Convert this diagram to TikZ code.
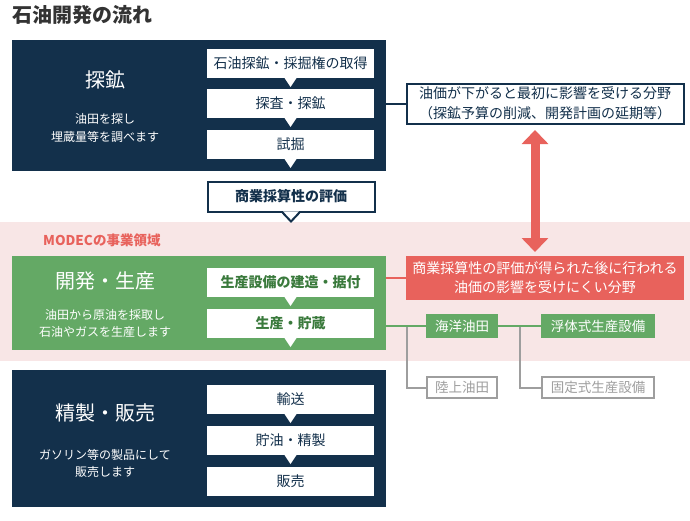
\documentclass[tikz,border=0pt]{standalone}
\usepackage{fontspec}
\setmainfont{Noto Sans CJK JP}
\usetikzlibrary{arrows.meta,calc}
\definecolor{navyc}{HTML}{13304B}
\definecolor{mgreen}{HTML}{64A965}
\definecolor{dgreen}{HTML}{3A7A3C}
\definecolor{mred}{HTML}{E8625C}
\definecolor{mpink}{HTML}{F8E6E6}
\definecolor{mgray}{HTML}{9E9E9E}
\definecolor{tgray}{HTML}{333333}
\tikzset{
  bigbox/.style={inner sep=0pt, outer sep=0pt, minimum width=374pt},
  stepbox/.style={fill=white, inner sep=0pt, outer sep=0pt, minimum width=167pt, minimum height=29pt, font=\fontsize{14}{16}\selectfont, text=navyc},
  gstepbox/.style={stepbox, text=dgreen, font=\fontsize{14}{16}\selectfont\bfseries},
  ptr/.style={fill=white},
  headtext/.style={text=white, font=\fontsize{20}{24}\selectfont},
  subtext/.style={text=white, align=center},
  fieldbox/.style={inner sep=0pt, outer sep=0pt, minimum width=72pt, minimum height=24pt, font=\fontsize{13.5}{16}\selectfont},
  greenbox/.style={fieldbox, fill=mgreen, text=white},
  graybox/.style={fieldbox, fill=white, draw=mgray, line width=2pt, text=mgray},
}
\begin{document}
\begin{tikzpicture}[x=1pt,y=-1pt]
\useasboundingbox (0,0) rectangle (690,520);
% title
\node[anchor=west, inner sep=0pt, text=tgray, font=\fontsize{20}{23}\selectfont\bfseries] (title) at (12,15) {石油開発の流れ};

% pink band
\fill[mpink] (0,222) rectangle (690,361);
\node[anchor=west, inner sep=0pt, text=mred, font=\fontsize{13.5}{15}\selectfont\bfseries] (modec) at (43,240) {MODECの事業領域};

% ---------- 探鉱 ----------
\node[bigbox, fill=navyc, minimum height=131pt] (d1) at (199,105.5) {};
\node[headtext] (d1h) at (105,80) {探鉱};
\node[subtext, font=\fontsize{12}{18}\selectfont] (d1s) at (105,127.5) {油田を探し\\埋蔵量等を調べます};
\node[stepbox] (s11) at (290.5,63.5) {石油探鉱・採掘権の取得};
\node[stepbox] (s12) at (290.5,103.5) {探査・探鉱};
\node[stepbox] (s13) at (290.5,144.5) {試掘};
\foreach \n in {s11,s12,s13}
  \fill[ptr] ([xshift=-6pt]\n.south) -- ([xshift=6pt]\n.south) -- ([yshift=-9pt]\n.south) -- cycle;

% callout
\node[draw=navyc, line width=2pt, fill=white, inner sep=0pt, minimum width=277pt, minimum height=40pt, align=center, text=navyc, font=\fontsize{14}{20}\selectfont] (call) at (545,103.5) {油価が下がると最初に影響を受ける分野\\（探鉱予算の削減、開発計画の延期等）};
\draw[navyc, line width=2pt] (call.west -| d1.east) -- (call.west);

% evaluation
\node[draw=navyc, line width=2pt, fill=white, inner sep=0pt, minimum width=167pt, minimum height=30pt, text=navyc, font=\fontsize{14}{16}\selectfont\bfseries] (ev) at (291,196.5) {商業採算性の評価};
\fill[white] ([xshift=-8pt,yshift=1.2pt]ev.south) -- ([xshift=8pt,yshift=1.2pt]ev.south) -- ([yshift=-8pt]ev.south) -- cycle;
\draw[navyc, line width=2pt, line join=miter] ([xshift=-8.5pt]ev.south) -- ([yshift=-9pt]ev.south) -- ([xshift=8.5pt]ev.south);

% ---------- 開発・生産 ----------
\node[bigbox, fill=mgreen, minimum height=94pt] (d2) at (199,303) {};
\node[headtext] (d2h) at (105,281) {開発・生産};
\node[subtext, font=\fontsize{12}{17}\selectfont] (d2s) at (105,323) {油田から原油を採取し\\石油やガスを生産します};
\node[gstepbox] (s21) at (290.5,282.5) {生産設備の建造・据付};
\node[gstepbox] (s22) at (290.5,323.5) {生産・貯蔵};
\foreach \n in {s21,s22}
  \fill[ptr] ([xshift=-6pt]\n.south) -- ([xshift=6pt]\n.south) -- ([yshift=-9pt]\n.south) -- cycle;

% red box
\node[fill=mred, inner sep=0pt, minimum width=278pt, minimum height=44pt, align=center, text=white, font=\fontsize{14}{19}\selectfont] (rb) at (545,278) {商業採算性の評価が得られた後に行われる\\油価の影響を受けにくい分野};
\draw[mred, line width=2pt] (rb.west -| d2.east) -- (rb.west);

% double arrow
\coordinate (a1) at (535,130);
\coordinate (a2) at (535,252);
\draw[mred, line width=9pt, {Triangle[width=26pt,length=14pt]}-{Triangle[width=26pt,length=14pt]}] (a1) -- (a2);

% fields
\node[greenbox] (kaiyo) at (462,326) {海洋油田};
\node[greenbox, minimum width=114pt] (futai) at (598,326) {浮体式生産設備};
\node[graybox, minimum width=70pt, minimum height=21pt] (riku) at (462,387.5) {陸上油田};
\node[graybox, minimum width=112pt, minimum height=21pt] (kotei) at (598,387.5) {固定式生産設備};
\coordinate (br1) at (407,326);
\coordinate (br2) at (520,326);
\draw[mgray, line width=2pt] (br1) |- (riku.west);
\draw[mgray, line width=2pt] (br2) |- (kotei.west);
\draw[mgreen, line width=2pt] (kaiyo.west -| d2.east) -- (kaiyo.west);
\draw[mgreen, line width=2pt] (kaiyo.east) -- (futai.west);

% ---------- 精製・販売 ----------
\node[bigbox, fill=navyc, minimum height=137pt] (d3) at (199,438.5) {};
\node[headtext] (d3h) at (105,413) {精製・販売};
\node[subtext, font=\fontsize{12}{17}\selectfont] (d3s) at (105,463) {ガソリン等の製品にして\\販売します};
\node[stepbox] (s31) at (290.5,399.5) {輸送};
\node[stepbox] (s32) at (290.5,440.5) {貯油・精製};
\node[stepbox] (s33) at (290.5,481.5) {販売};
\foreach \n in {s31,s32}
  \fill[ptr] ([xshift=-6pt]\n.south) -- ([xshift=6pt]\n.south) -- ([yshift=-9pt]\n.south) -- cycle;
\end{tikzpicture}
\end{document}
